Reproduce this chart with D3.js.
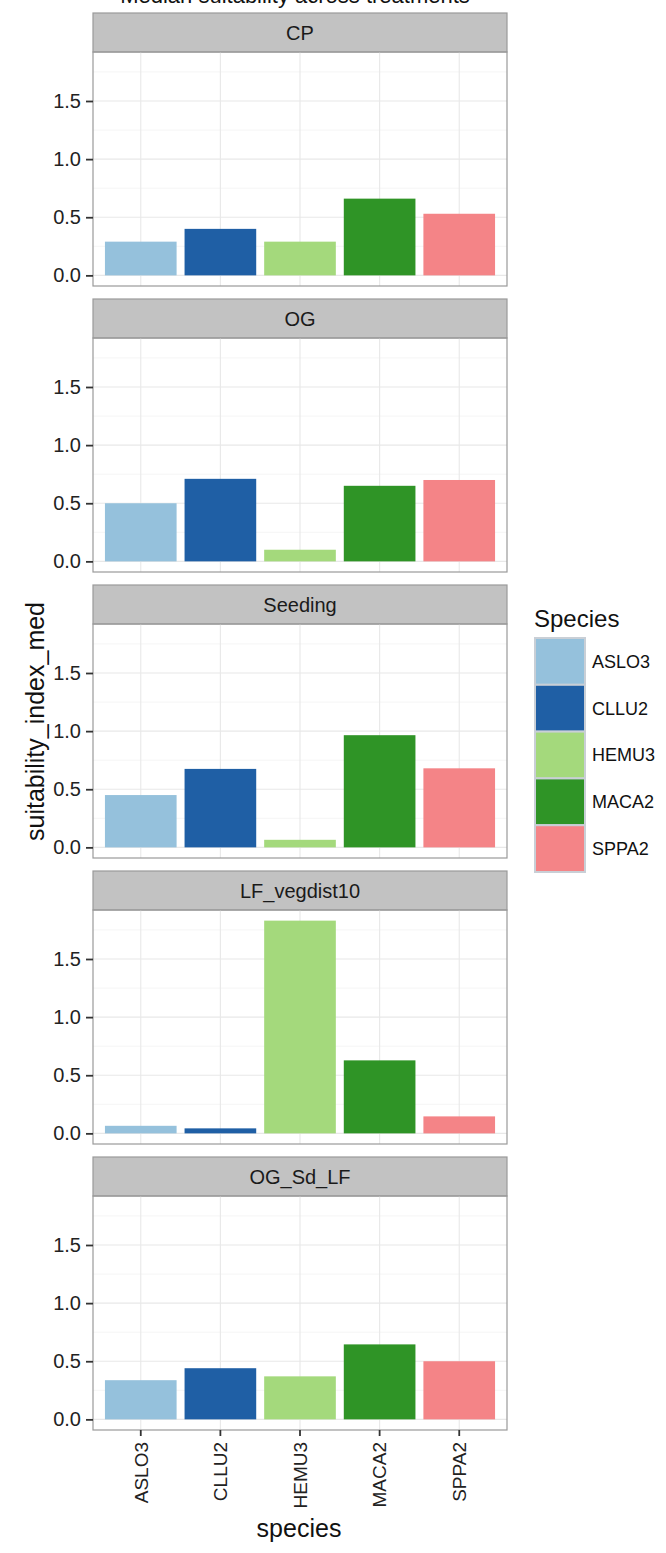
<!DOCTYPE html>
<html>
<head>
<meta charset="utf-8">
<script src="https://cdn.jsdelivr.net/npm/d3@7"></script>
<style>
  body { margin: 0; background: #fff; }
  text { font-family: "Liberation Sans", Arial, sans-serif; }
</style>
</head>
<body>
<div id="figure"></div>
<script>
// data
var species = ["ASLO3", "CLLU2", "HEMU3", "MACA2", "SPPA2"];
var treatments = ["CP", "OG", "Seeding", "LF_vegdist10", "OG_Sd_LF"];
var cp = [0.29, 0.40, 0.29, 0.66, 0.53];
var og = [0.50, 0.71, 0.10, 0.65, 0.70];
var seeding = [0.45, 0.675, 0.065, 0.965, 0.68];
var lf_vegdist10 = [0.065, 0.043, 1.83, 0.628, 0.146];
var og_sd_lf = [0.337, 0.44, 0.37, 0.645, 0.50];
var yTicks = [0, 0.5, 1.0, 1.5];
var colors = ["#95c1dc", "#1f5fa5", "#a4d97c", "#2f9426", "#f48487"];

var values = [cp, og, seeding, lf_vegdist10, og_sd_lf];

const W = 666, H = 1553;
const left = 93, right = 507;
const top0 = 13, stripH = 39, plotH = 234, pitch = 286;

var svg = d3.select("#figure").append("svg")
    .attr("width", W)
    .attr("height", H);

// title, mostly cut off at the top edge as in the source image
svg.append("text")
    .attr("x", 295)
    .attr("y", 3)
    .attr("text-anchor", "middle")
    .attr("font-size", 22)
    .attr("fill", "#111")
    .text("Median suitability across treatments");

var x = d3.scaleBand()
    .domain(species)
    .range([left, right])
    .paddingInner(0.1)
    .paddingOuter(0.15);

var maxV = d3.max(values, v => d3.max(v));
var pad = maxV * 0.05;

var color = d3.scaleOrdinal().domain(species).range(colors);

treatments.forEach(function (t, k) {
    var stripTop = top0 + pitch * k;
    var pTop = stripTop + stripH;
    var pBot = pTop + plotH;

    var y = d3.scaleLinear()
        .domain([-pad, maxV + pad])
        .range([pBot, pTop]);

    var g = svg.append("g");

    // strip
    g.append("rect")
        .attr("x", left).attr("y", stripTop)
        .attr("width", right - left).attr("height", stripH)
        .attr("fill", "#c2c2c2")
        .attr("stroke", "#9a9a9a").attr("stroke-width", 1.2);
    g.append("text")
        .attr("x", (left + right) / 2)
        .attr("y", stripTop + stripH / 2)
        .attr("dy", "0.36em")
        .attr("text-anchor", "middle")
        .attr("font-size", 20)
        .attr("fill", "#1a1a1a")
        .text(t);

    // minor grid
    var minor = [0.25, 0.75, 1.25, 1.75];
    g.selectAll(".minor").data(minor).join("line")
        .attr("x1", left).attr("x2", right)
        .attr("y1", d => y(d)).attr("y2", d => y(d))
        .attr("stroke", "#f5f5f5").attr("stroke-width", 1);
    // major grid
    g.selectAll(".majorY").data(yTicks).join("line")
        .attr("x1", left).attr("x2", right)
        .attr("y1", d => y(d)).attr("y2", d => y(d))
        .attr("stroke", "#e8e8e8").attr("stroke-width", 1.1);
    g.selectAll(".majorX").data(species).join("line")
        .attr("x1", d => x(d) + x.bandwidth() / 2).attr("x2", d => x(d) + x.bandwidth() / 2)
        .attr("y1", pTop).attr("y2", pBot)
        .attr("stroke", "#e8e8e8").attr("stroke-width", 1.1);

    // bars
    g.selectAll(".bar").data(values[k]).join("rect")
        .attr("x", (d, i) => x(species[i]))
        .attr("width", x.bandwidth())
        .attr("y", d => y(d))
        .attr("height", d => y(0) - y(d))
        .attr("fill", (d, i) => color(species[i]));

    // panel border
    g.append("rect")
        .attr("x", left).attr("y", pTop)
        .attr("width", right - left).attr("height", plotH)
        .attr("fill", "none")
        .attr("stroke", "#9a9a9a").attr("stroke-width", 1.2);

    // y axis
    var yAxis = d3.axisLeft(y).tickValues(yTicks).tickFormat(d3.format(".1f"))
        .tickSize(7).tickPadding(5);
    var ya = g.append("g").attr("transform", `translate(${left},0)`).call(yAxis);
    ya.select(".domain").remove();
    ya.selectAll(".tick line").attr("stroke", "#333").attr("stroke-width", 1.8);
    ya.selectAll(".tick text").attr("font-size", 20).attr("fill", "#222")
        .attr("font-family", "Liberation Sans, Arial, sans-serif");

    if (k === treatments.length - 1) {
        var xa = g.append("g").attr("transform", `translate(0,${pBot})`)
            .call(d3.axisBottom(x).tickSize(6));
        xa.select(".domain").remove();
        xa.selectAll(".tick line").attr("stroke", "#333").attr("stroke-width", 1.8);
        xa.selectAll(".tick text")
            .attr("font-size", 19).attr("fill", "#222")
            .attr("font-family", "Liberation Sans, Arial, sans-serif")
            .attr("transform", "rotate(-90)")
            .attr("text-anchor", "end")
            .attr("x", -12).attr("y", 0).attr("dy", "0.36em");
    }
});

// axis titles
svg.append("text")
    .attr("transform", `translate(44,${(top0 + top0 + pitch * 4 + stripH + plotH) / 2}) rotate(-90)`)
    .attr("text-anchor", "middle")
    .attr("font-size", 25)
    .attr("fill", "#111")
    .text("suitability_index_med");

svg.append("text")
    .attr("x", 299)
    .attr("y", 1537)
    .attr("text-anchor", "middle")
    .attr("font-size", 25)
    .attr("fill", "#111")
    .text("species");

// legend
var leg = svg.append("g");
leg.append("text")
    .attr("x", 534).attr("y", 627)
    .attr("font-size", 24).attr("fill", "#111")
    .text("Species");
var keyH = 46.8, keyW = 50, keyY = 638;
leg.selectAll(".key").data(species).join("rect")
    .attr("x", 535).attr("y", (d, i) => keyY + i * keyH)
    .attr("width", keyW).attr("height", keyH)
    .attr("fill", d => color(d))
    .attr("stroke", "#c9cfd6").attr("stroke-width", 2);
leg.selectAll(".lab").data(species).join("text")
    .attr("x", 592).attr("y", (d, i) => keyY + i * keyH + keyH / 2)
    .attr("dy", "0.36em")
    .attr("font-size", 18).attr("fill", "#111")
    .text(d => d);
</script>
</body>
</html>
